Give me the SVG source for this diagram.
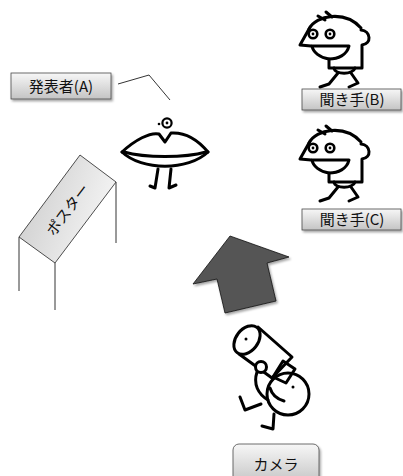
<svg xmlns="http://www.w3.org/2000/svg" width="403" height="476" viewBox="0 0 403 476">
  <defs>
    <linearGradient id="btnGrad" x1="0" y1="0" x2="0" y2="1">
      <stop offset="0" stop-color="#f7f7f7"/>
      <stop offset="1" stop-color="#c4c4c4"/>
    </linearGradient>
    <linearGradient id="posterGrad" x1="0" y1="0" x2="1" y2="0.4">
      <stop offset="0" stop-color="#c8c8c8"/>
      <stop offset="1" stop-color="#f4f4f4"/>
    </linearGradient>
    <filter id="shadow" x="-20%" y="-20%" width="150%" height="160%">
      <feDropShadow dx="1.5" dy="2" stdDeviation="1.2" flood-color="#000" flood-opacity="0.35"/>
    </filter>
  </defs>
  <style>
    .btn { fill: url(#btnGrad); stroke: #4a4a4a; stroke-width: 0.8; filter: url(#shadow); }
    .lbl { font-family: "Noto Sans CJK JP", "Noto Sans", sans-serif; font-size: 15px; fill: #111; text-anchor: middle; }
    .ink { fill: none; stroke: #000; stroke-width: 3; stroke-linecap: round; stroke-linejoin: round; }
    .thin { fill: none; stroke: #000; stroke-width: 0.8; }
  </style>

  <!-- connectors -->
  <g id="connectors">
    <polyline class="thin" points="118,84 149,75 170,100"/>
  </g>

  <!-- presenter label -->
  <g id="label-presenter">
    <rect class="btn" x="11" y="73" width="100" height="26"/>
    <text class="lbl" x="61" y="91.5">発表者(A)</text>
  </g>

  <!-- presenter: lips figure -->
  <g id="presenter">
    <circle cx="167" cy="123" r="4.6" fill="#fff" stroke="#000" stroke-width="2.2"/>
    <circle cx="167" cy="123" r="1.4" fill="#000"/>
    <circle cx="159" cy="124" r="1.3" fill="#000"/>
    <path class="ink" stroke-width="3.8" d="M122,152 C135,140 150,132 159,134 L165,142 L171,133 C185,132 198,140 208,152"/>
    <path class="ink" stroke-width="3.8" d="M122,152 C142,171 188,171 208,152"/>
    <path class="ink" stroke-width="3.8" d="M124,152 C145,158 185,158 206,152"/>
    <path class="ink" stroke-width="3.4" d="M158,169 L155,188 L150,186"/>
    <path class="ink" stroke-width="3.4" d="M171,169 L169,188 L176,185"/>
  </g>

  <!-- poster board -->
  <g id="poster">
    <line class="thin" x1="19" y1="237" x2="19" y2="291"/>
    <line class="thin" x1="55" y1="263" x2="55" y2="310"/>
    <line class="thin" x1="116" y1="182" x2="116" y2="243"/>
    <polygon points="80,155 116,182 55,263 19,237" fill="url(#posterGrad)" stroke="#222" stroke-width="0.8"/>
    <text class="lbl" x="0" y="0" transform="translate(68,210) rotate(-53) translate(0,5)">ポスター</text>
  </g>

  <!-- listener B -->
  <g id="listener-b">
    <g id="listener-figure">
      <path class="ink" stroke-width="2.4" d="M318,16 L325,20 M326,12 L332,17"/>
      <path class="ink" d="M309,29 C316,15 345,10 361,28"/>
      <path class="ink" d="M361,30 C371,31 372,44 362,45 L362,68 L329,68 L329,59"/>
      <path class="ink" d="M309,29 L300,45 L311,46"/>
      <path class="ink" fill="#fff" d="M312,46 L349,46 C347,55 338,59 329,59 C320,58 313,52 312,46 Z"/>
      <circle cx="313" cy="34" r="4.3" fill="#fff" stroke="#000" stroke-width="2.6"/>
      <circle cx="313" cy="34" r="1.4" fill="#000"/>
      <circle cx="330" cy="34" r="4.3" fill="#fff" stroke="#000" stroke-width="2.6"/>
      <circle cx="330" cy="34" r="1.4" fill="#000"/>
      <path class="ink" d="M334,68 C335,75 353,75 355,68"/>
      <path class="ink" d="M338,73 L329,84 L320,87"/>
      <path class="ink" d="M351,73 L358,83 L349,87"/>
    </g>
    <rect class="btn" x="302" y="89" width="99" height="21"/>
    <text class="lbl" x="352" y="105">聞き手(B)</text>
  </g>

  <!-- listener C -->
  <g id="listener-c">
    <use href="#listener-figure" transform="translate(0,114)"/>
    <rect class="btn" x="302" y="209" width="99" height="21"/>
    <text class="lbl" x="352" y="225">聞き手(C)</text>
  </g>

  <!-- direction arrow -->
  <g id="arrow">
    <polygon points="230,236 289,257 267,263 276,301 225,313 217,279 193,284" fill="#555" stroke="#111" stroke-width="0.8" filter="url(#shadow)"/>
  </g>

  <!-- camera operator -->
  <g id="camera">
    <path class="ink" fill="#fff" d="M258,327 L292,357 L272,378 L239,354 Z"/>
    <ellipse cx="247" cy="340" rx="11" ry="16" transform="rotate(38 247 340)" fill="#fff" stroke="#000" stroke-width="3"/>
    <circle cx="246" cy="339" r="1.5" fill="#000"/>
    <circle cx="288" cy="394" r="21" fill="#fff" stroke="#000" stroke-width="3"/>
    <path class="ink" fill="#fff" d="M283,361 L295,369 L286,383 L273,377 Z"/>
    <circle cx="261" cy="367" r="5.5" fill="#fff" stroke="#000" stroke-width="3"/>
    <path class="ink" d="M257,372 C253,384 258,394 268,400"/>
    <circle cx="293" cy="387" r="1.5" fill="#000"/>
    <path class="ink" d="M270,388 Q273,398 284,401"/>
    <path class="ink" d="M261,404 L245,410 L240,397"/>
    <path class="ink" d="M274,414 L273,429 L262,426"/>
  </g>

  <!-- camera label -->
  <g id="label-camera">
    <rect class="btn" x="233" y="444" width="86" height="40" rx="6"/>
    <text class="lbl" x="276" y="469.5">カメラ</text>
  </g>
</svg>
